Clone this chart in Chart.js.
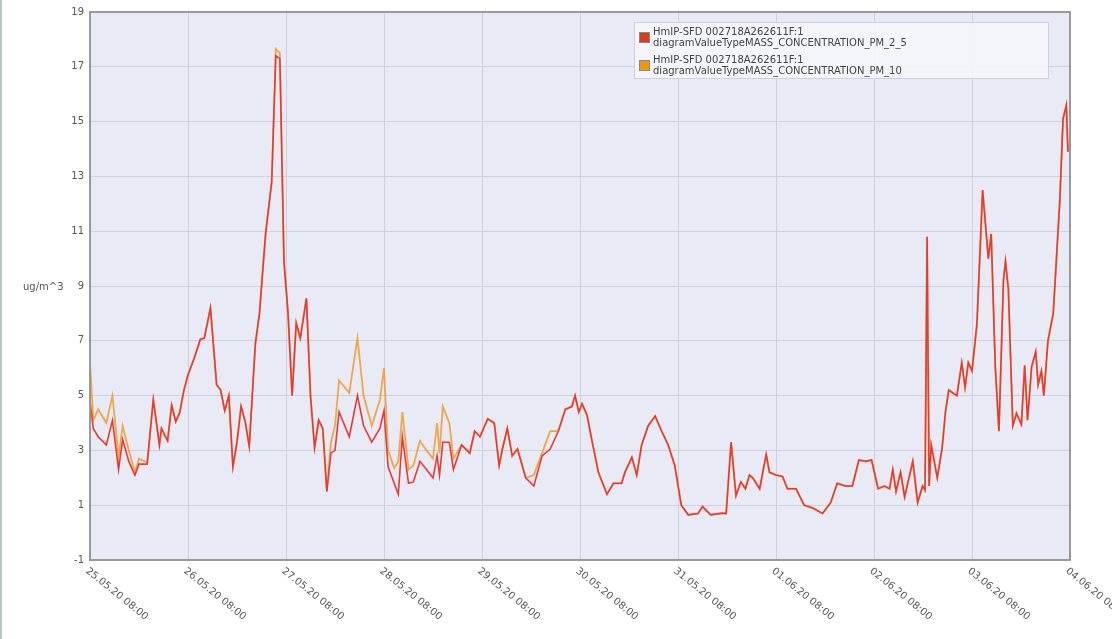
<!DOCTYPE html>
<html>
<head>
<meta charset="utf-8">
<script src="https://cdn.jsdelivr.net/npm/chart.js@4"></script>
<style>
  body { margin: 0; background: #fff; }
  #wrap { position: relative; width: 1112px; height: 639px; border-left: 2px solid #b9c9c3; box-sizing: border-box; }
  #legend { position: absolute; left: 632px; top: 22px; width: 413px; height: 55px; background: rgba(245,246,251,0.9);
            border: 1px solid #d0d0d8; font: 10px "DejaVu Sans", Verdana, sans-serif; color: #444; }
  .item { position: absolute; left: 4px; line-height: 11px; }
  .sw { position: absolute; left: 0; top: 6px; width: 9px; height: 9px; border: 1px solid #888; }
  .txt { margin-left: 14px; }
</style>
</head>
<body>
<div id="wrap">
<canvas id="canvas" width="1110" height="639"></canvas>
<div id="legend">
  <div class="item" style="top:3px"><span class="sw" style="background:#d2401e"></span><div class="txt">HmIP-SFD 002718A262611F:1<br>diagramValueTypeMASS_CONCENTRATION_PM_2_5</div></div>
  <div class="item" style="top:31px"><span class="sw" style="background:#f0960e"></span><div class="txt">HmIP-SFD 002718A262611F:1<br>diagramValueTypeMASS_CONCENTRATION_PM_10</div></div>
</div>
</div>
<script>
// hours since 25.05.20 08:00
var hours = [0,0.8,2,4,5.5,7,8,9.5,11,12,14,15.5,17,17.5,19,20,21,22,23,24,25.6,27,28,29.5,31,32,33,34,35,36,37,38,39,40.5,41.5,43,44.5,45.5,46.5,47.5,48.5,49.5,50.5,51.5,53,54,55,56,57,58,59,60,61,63.5,65.5,67,69,71,72,73,74.5,75.5,76.5,78,79.2,80.8,82.4,84,85,85.6,86.4,88,89,91,93,94.2,95.5,97.4,99,100.2,101,102.2,103.4,104.7,106.7,108.7,110.7,112.7,114.7,116.4,118,118.8,119.7,120.5,121.7,123,124.5,126.6,128.2,130.2,131,132.7,133.9,135.1,136.7,138.4,140,141.6,143.2,144.8,146.5,148.9,150,152,154.5,155.8,157,158.2,159.4,160.5,161.5,162.3,164,165.6,166.4,168,169.6,170.8,172.9,174.9,177,179.4,181.4,183,185,186.7,188.3,190,191.4,193,194.6,195.8,196.6,197.4,198.5,199.5,201.5,202.7,203.9,204.5,205,205.5,206,207.5,208.7,209.5,210.3,212.3,213.5,214.3,215.1,216,217.2,218.6,220,220.7,221.7,222.6,223.7,224.2,224.9,226,226.9,228.1,228.9,229.6,230.6,231.6,232.2,233,233.6,234.6,235.9,237.5,238.3,239.1,239.5];

var pm10 = [6.2,4.1,4.5,4.0,5.0,2.75,3.9,3.0,2.2,2.7,2.55,4.85,3.2,3.8,3.35,4.65,4.05,4.4,5.2,5.75,6.4,7.05,7.1,8.2,5.4,5.2,4.45,5.0,2.4,3.3,4.6,4.05,3.15,6.9,8.0,10.9,12.8,17.65,17.5,9.9,8.0,5.0,7.65,7.1,8.55,5.0,3.1,4.1,3.8,1.5,3.3,3.9,5.55,5.1,7.1,5.0,3.9,4.85,6.0,3.0,2.35,2.6,4.4,2.3,2.45,3.35,3.0,2.7,4.0,2.9,4.6,4.0,2.7,3.2,2.9,3.7,3.5,4.15,4.0,2.45,3.05,3.8,2.8,3.05,2.0,2.1,2.9,3.7,3.7,4.5,4.6,5.0,4.4,4.7,4.3,3.3,2.2,1.4,1.8,1.8,2.2,2.75,2.1,3.2,3.9,4.25,3.7,3.2,2.45,1.0,0.65,0.7,0.95,0.65,0.7,0.7,3.3,1.35,1.85,1.6,2.1,2.0,1.6,2.85,2.2,2.1,2.05,1.6,1.6,1.0,0.9,0.7,1.1,1.8,1.7,1.7,2.65,2.6,2.65,1.6,1.7,1.6,2.3,1.5,2.2,1.3,2.6,1.1,1.7,1.55,10.8,1.7,3.2,2.0,3.1,4.4,5.2,5.0,6.2,5.3,6.2,5.9,7.6,12.5,10.0,10.9,6.05,3.7,9.2,9.9,8.9,3.9,4.35,3.95,6.1,4.1,6.05,6.6,5.4,5.9,5.0,7.0,8.0,12.1,15.1,15.6,13.9];

var pm25 = [4.8,3.8,3.5,3.2,4.1,2.3,3.4,2.6,2.1,2.5,2.5,4.85,3.2,3.8,3.35,4.65,4.05,4.4,5.2,5.75,6.4,7.05,7.1,8.2,5.4,5.2,4.45,5.0,2.4,3.3,4.6,4.05,3.15,6.9,8.0,10.9,12.8,17.4,17.3,9.9,8.0,5.0,7.65,7.1,8.55,5.0,3.1,4.1,3.8,1.5,2.9,3.0,4.4,3.5,5.0,3.9,3.3,3.8,4.45,2.4,1.8,1.4,3.5,1.8,1.85,2.6,2.3,2.0,2.8,2.1,3.3,3.3,2.3,3.2,2.9,3.7,3.5,4.15,4.0,2.45,3.05,3.8,2.8,3.05,2.0,1.7,2.8,3.05,3.7,4.5,4.6,5.0,4.4,4.7,4.3,3.3,2.2,1.4,1.8,1.8,2.2,2.75,2.1,3.2,3.9,4.25,3.7,3.2,2.45,1.0,0.65,0.7,0.95,0.65,0.7,0.7,3.3,1.35,1.85,1.6,2.1,2.0,1.6,2.85,2.2,2.1,2.05,1.6,1.6,1.0,0.9,0.7,1.1,1.8,1.7,1.7,2.65,2.6,2.65,1.6,1.7,1.6,2.3,1.5,2.2,1.3,2.6,1.1,1.7,1.55,10.8,1.7,3.2,2.0,3.1,4.4,5.2,5.0,6.2,5.3,6.2,5.9,7.6,12.5,10.0,10.9,6.05,3.7,9.2,9.9,8.9,3.9,4.35,3.95,6.1,4.1,6.05,6.6,5.4,5.9,5.0,7.0,8.0,12.1,15.1,15.6,13.9];

var dayLabels = ['25.05.20 08:00','26.05.20 08:00','27.05.20 08:00','28.05.20 08:00','29.05.20 08:00',
   '30.05.20 08:00','31.05.20 08:00','01.06.20 08:00','02.06.20 08:00','03.06.20 08:00','04.06.20 08:00'];

function pts(vals) {
   return hours.map(function (h, i) { return { x: h, y: vals[i] }; });
}

// plot background, rotated date labels and unit text
var decor = {
   id: 'decor',
   beforeDraw: function (chart) {
      var a = chart.chartArea, c = chart.ctx;
      c.save();
      c.fillStyle = '#e8eaf5';
      c.fillRect(a.left, a.top, a.right - a.left, a.bottom - a.top);
      c.restore();
   },
   afterDraw: function (chart) {
      var a = chart.chartArea, c = chart.ctx, xs = chart.scales.x;
      c.save();
      c.strokeStyle = '#999';
      c.lineWidth = 2;
      c.strokeRect(a.left, a.top, a.right - a.left, a.bottom - a.top);
      c.font = '10px "DejaVu Sans", sans-serif';
      c.fillStyle = '#555';
      dayLabels.forEach(function (t, i) {
         c.save();
         c.translate(xs.getPixelForValue(i * 24) - 3, a.bottom + 10);
         c.rotate(0.68);
         c.textAlign = 'left';
         c.textBaseline = 'middle';
         c.fillText(t, 0, 0);
         c.restore();
      });
      c.textBaseline = 'middle';
      c.fillText('ug/m^3', 21, 287);
      c.restore();
   }
};

window.onload = function () {
   var ctx = document.getElementById('canvas').getContext('2d');
   window.myLine = new Chart(ctx, {
      type: 'line',
      data: {
         datasets: [{
            label: 'PM_2_5',
            data: pts(pm25),
            borderColor: 'rgb(232,58,52)',
            borderWidth: 1.6,
            pointRadius: 0,
            tension: 0
         }, {
            label: 'PM_10',
            data: pts(pm10),
            borderColor: 'rgba(240,150,30,0.8)',
            borderWidth: 1.8,
            pointRadius: 0,
            tension: 0
         }]
      },
      options: {
         responsive: false,
         animation: false,
         layout: { padding: { top: 12, right: 42 } },
         plugins: { legend: { display: false }, tooltip: { enabled: false } },
         scales: {
            x: {
               type: 'linear',
               min: 0,
               max: 240,
               ticks: { stepSize: 24, display: false },
               grid: { color: '#cfd1dc', drawTicks: false },
               border: { display: false },
               afterFit: function (s) { s.height = 79; }
            },
            y: {
               min: -1,
               max: 19,
               ticks: { stepSize: 2, color: '#555', font: { size: 10, family: 'DejaVu Sans' }, padding: 6 },
               grid: { color: '#cfd1dc', drawTicks: false },
               border: { display: false },
               afterFit: function (s) { s.width = 88; }
            }
         }
      },
      plugins: [decor]
   });
};
</script>
</body>
</html>
